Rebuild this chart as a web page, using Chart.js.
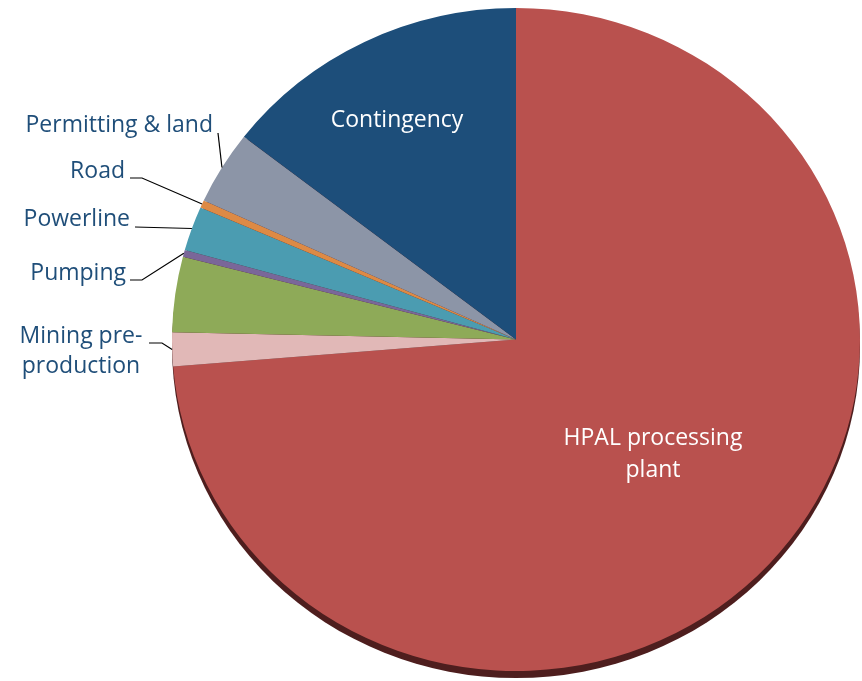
<!DOCTYPE html>
<html>
<head>
<meta charset="utf-8">
<script src="https://cdn.jsdelivr.net/npm/chart.js@4.4.0/dist/chart.umd.min.js"></script>
<style>
  html, body { margin: 0; padding: 0; background: #fff; overflow: hidden; }
  #cost { display: block; }
</style>
</head>
<body>
<canvas id="cost" width="862" height="681"></canvas>
<script>
// capital cost split, % of total (clockwise from 12 o'clock)
var categories = ['HPAL processing plant', 'Mining pre-production', '', 'Pumping',
                  'Powerline', 'Road', 'Permitting & land', 'Contingency'];
var shares = [73.7, 1.65, 3.67, 0.33, 2.17, 0.37, 3.59, 14.52];
var colours = ['#b9514e', '#e1b8b7', '#8eaa58', '#7a6799', '#4b9cb1', '#dd8a45', '#8c95a7', '#1d4e7a'];

// label placement: text lines, anchor x, baselines, alignment, optional leader elbow
var labelSpots = {
  'HPAL processing plant': { lines: ['HPAL processing', 'plant'], x: 653, y: [445, 477], align: 'center', inside: true },
  'Contingency': { lines: ['Contingency'], x: 397, y: [127], align: 'center', inside: true },
  'Permitting & land': { lines: ['Permitting & land'], x: 213, y: [132], align: 'right', lead: [[218, 133]] },
  'Road': { lines: ['Road'], x: 125, y: [178], align: 'right', lead: [[130, 178], [142, 178]] },
  'Powerline': { lines: ['Powerline'], x: 130, y: [226], align: 'right', lead: [[135, 227]] },
  'Pumping': { lines: ['Pumping'], x: 126, y: [280], align: 'right', lead: [[130, 280], [142, 280]] },
  'Mining pre-production': { lines: ['Mining pre-', 'production'], x: 81, y: [343, 373], align: 'center', lead: [[149, 343], [162, 343]] }
};

var stretchX = 344 / 331.5;   // pie face is a little wider than tall
var rimColour = '#4e1e1e';

// widen the pie and put a dark edge under it
var pieFace = {
  id: 'pieFace',
  beforeDatasetsDraw: function(chart) {
    var arc = chart.getDatasetMeta(0).data[0];
    var ctx = chart.ctx;
    ctx.save();
    ctx.translate(arc.x, arc.y);
    ctx.scale(stretchX, 1);
    ctx.translate(-arc.x, -arc.y);
    ctx.fillStyle = rimColour;
    ctx.beginPath();
    ctx.arc(arc.x, arc.y + 7, arc.outerRadius, 0, Math.PI * 2);
    ctx.fill();
  },
  afterDatasetsDraw: function(chart) {
    chart.ctx.restore();
  }
};

// category names and leader lines
var pieLabels = {
  id: 'pieLabels',
  afterDraw: function(chart) {
    var ctx = chart.ctx;
    var meta = chart.getDatasetMeta(0);
    ctx.save();
    ctx.font = '23px "Open Sans", sans-serif';
    ctx.textBaseline = 'alphabetic';
    categories.forEach(function(name, i) {
      var spot = labelSpots[name];
      if (!spot) return;
      var arc = meta.data[i];
      if (spot.lead) {
        var mid = (arc.startAngle + arc.endAngle) / 2;
        var ex = arc.x + Math.cos(mid) * arc.outerRadius * stretchX;
        var ey = arc.y + Math.sin(mid) * arc.outerRadius;
        ctx.strokeStyle = '#000';
        ctx.lineWidth = 1.2;
        ctx.beginPath();
        ctx.moveTo(spot.lead[0][0], spot.lead[0][1]);
        for (var k = 1; k < spot.lead.length; k++) ctx.lineTo(spot.lead[k][0], spot.lead[k][1]);
        ctx.lineTo(ex, ey);
        ctx.stroke();
      }
      ctx.fillStyle = spot.inside ? '#ffffff' : '#1f4e79';
      ctx.textAlign = spot.align;
      spot.lines.forEach(function(line, j) {
        ctx.fillText(line, spot.x, spot.y[j]);
      });
    });
    ctx.restore();
  }
};

var ctx = document.getElementById('cost');
var pieChart = new Chart(ctx, {
  type: 'pie',
  data: {
    labels: categories,
    datasets: [{
      data: shares,
      backgroundColor: colours,
      borderWidth: 0
    }]
  },
  options: {
    responsive: false,
    devicePixelRatio: 1,
    animation: false,
    layout: { padding: { top: 8, bottom: 10, left: 184.5, right: 14.5 } },
    plugins: {
      legend: { display: false },
      tooltip: { enabled: false }
    }
  },
  plugins: [pieFace, pieLabels]
});
</script>
</body>
</html>
